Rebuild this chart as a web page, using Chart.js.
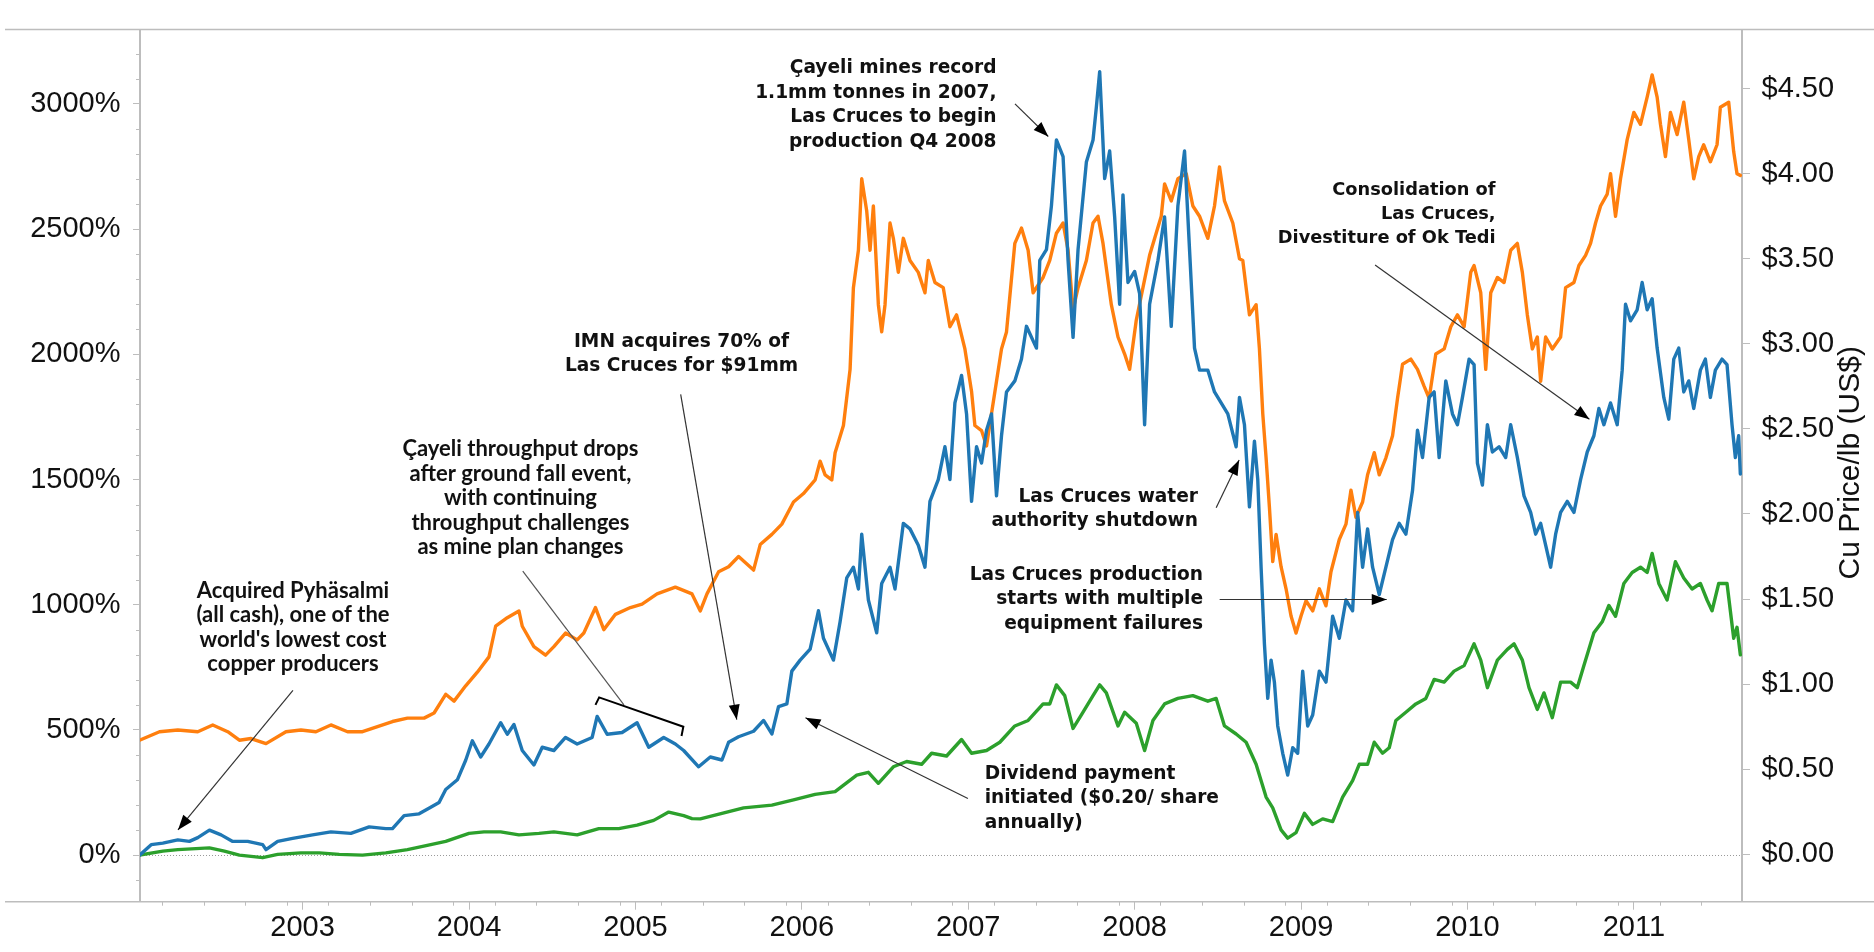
<!DOCTYPE html>
<html>
<head>
<meta charset="utf-8">
<script src="https://cdn.jsdelivr.net/npm/chart.js@4.4.0/dist/chart.umd.min.js"></script>
<style>
html,body{margin:0;padding:0;background:#fff;overflow:hidden;}
#c{display:block;}
</style>
</head>
<body>
<canvas id="c" width="1874" height="952"></canvas>
<script>
// ---------- DATA ----------
const yearTicks  = [2003, 2004, 2005, 2006, 2007, 2008, 2009, 2010, 2011];
const pctTicks   = [0, 500, 1000, 1500, 2000, 2500, 3000];
const priceTicks = [0, 0.5, 1, 1.5, 2, 2.5, 3, 3.5, 4, 4.5];

// Copper price, US$/lb (orange, right axis)
const copperYears = [2002.02,2002.14,2002.25,2002.37,2002.46,2002.55,2002.62,2002.69,2002.78,2002.90,2002.99,2003.08,2003.17,2003.27,2003.36,2003.45,2003.54,2003.63,2003.73,2003.79,2003.86,2003.91,2003.98,2004.05,2004.12,2004.16,2004.23,2004.30,2004.32,2004.39,2004.46,2004.51,2004.58,2004.65,2004.69,2004.76,2004.81,2004.88,2004.97,2005.04,2005.13,2005.24,2005.34,2005.39,2005.43,2005.50,2005.56,2005.62,2005.71,2005.75,2005.82,2005.88,2005.95,2006.01,2006.08,2006.11,2006.14,2006.18,2006.20,2006.25,2006.29,2006.31,2006.34,2006.36,2006.39,2006.41,2006.43,2006.46,2006.48,2006.50,2006.53,2006.55,2006.58,2006.61,2006.65,2006.70,2006.74,2006.76,2006.80,2006.85,2006.89,2006.93,2006.98,2007.02,2007.04,2007.08,2007.11,2007.14,2007.17,2007.20,2007.23,2007.28,2007.32,2007.36,2007.39,2007.45,2007.49,2007.53,2007.57,2007.60,2007.63,2007.66,2007.71,2007.75,2007.78,2007.81,2007.86,2007.90,2007.94,2007.97,2008.01,2008.05,2008.09,2008.16,2008.18,2008.22,2008.26,2008.31,2008.35,2008.39,2008.44,2008.48,2008.51,2008.54,2008.59,2008.63,2008.65,2008.69,2008.73,2008.75,2008.77,2008.79,2008.81,2008.83,2008.85,2008.88,2008.91,2008.94,2008.97,2009.00,2009.03,2009.07,2009.11,2009.15,2009.18,2009.23,2009.27,2009.30,2009.33,2009.37,2009.40,2009.44,2009.47,2009.51,2009.55,2009.58,2009.61,2009.66,2009.70,2009.74,2009.77,2009.81,2009.86,2009.90,2009.94,2009.98,2010.02,2010.04,2010.08,2010.11,2010.14,2010.18,2010.22,2010.26,2010.30,2010.33,2010.36,2010.39,2010.42,2010.44,2010.47,2010.51,2010.56,2010.59,2010.64,2010.67,2010.71,2010.74,2010.77,2010.80,2010.84,2010.86,2010.89,2010.92,2010.96,2011.00,2011.04,2011.08,2011.11,2011.14,2011.16,2011.19,2011.22,2011.26,2011.30,2011.33,2011.36,2011.39,2011.42,2011.46,2011.50,2011.52,2011.57,2011.60,2011.62,2011.64];
const copperPrice = [0.67,0.72,0.73,0.72,0.76,0.72,0.67,0.68,0.65,0.72,0.73,0.72,0.76,0.72,0.72,0.75,0.78,0.80,0.80,0.83,0.94,0.90,0.99,1.07,1.16,1.34,1.39,1.43,1.34,1.22,1.17,1.22,1.30,1.26,1.30,1.45,1.32,1.41,1.45,1.47,1.53,1.57,1.53,1.43,1.53,1.66,1.69,1.75,1.67,1.82,1.88,1.94,2.07,2.12,2.20,2.31,2.23,2.20,2.36,2.52,2.85,3.33,3.55,3.97,3.78,3.55,3.81,3.23,3.07,3.23,3.71,3.62,3.42,3.62,3.49,3.42,3.30,3.49,3.36,3.33,3.10,3.17,2.97,2.72,2.52,2.49,2.40,2.59,2.78,2.97,3.07,3.59,3.68,3.55,3.30,3.39,3.49,3.65,3.71,3.55,3.20,3.33,3.49,3.71,3.75,3.59,3.23,3.04,2.94,2.85,3.14,3.33,3.52,3.75,3.94,3.84,3.97,4.00,3.81,3.75,3.62,3.81,4.04,3.84,3.71,3.50,3.49,3.17,3.23,2.97,2.59,2.33,2.04,1.72,1.88,1.69,1.56,1.40,1.30,1.40,1.49,1.43,1.56,1.46,1.66,1.85,1.94,2.14,1.98,2.07,2.23,2.36,2.23,2.33,2.46,2.68,2.88,2.91,2.85,2.75,2.68,2.94,2.97,3.10,3.17,3.10,3.42,3.46,3.30,2.85,3.30,3.39,3.36,3.55,3.59,3.42,3.17,2.97,3.04,2.78,3.04,2.97,3.04,3.33,3.36,3.46,3.52,3.59,3.71,3.81,3.88,4.00,3.75,3.97,4.20,4.36,4.29,4.45,4.58,4.45,4.29,4.10,4.36,4.23,4.42,4.20,3.97,4.10,4.17,4.07,4.17,4.39,4.42,4.13,4.00,3.99];

// IMN total return, % (blue, left axis)
const imnYears = [2002.02,2002.09,2002.16,2002.25,2002.32,2002.37,2002.44,2002.51,2002.58,2002.67,2002.76,2002.78,2002.85,2002.94,2003.06,2003.17,2003.29,2003.40,2003.50,2003.54,2003.61,2003.70,2003.77,2003.82,2003.86,2003.93,2003.98,2004.02,2004.07,2004.12,2004.19,2004.23,2004.27,2004.32,2004.39,2004.44,2004.51,2004.58,2004.65,2004.74,2004.77,2004.83,2004.92,2005.01,2005.08,2005.17,2005.24,2005.29,2005.38,2005.45,2005.52,2005.56,2005.62,2005.71,2005.77,2005.82,2005.86,2005.91,2005.94,2005.99,2006.05,2006.10,2006.13,2006.19,2006.23,2006.27,2006.31,2006.34,2006.36,2006.40,2006.45,2006.48,2006.53,2006.56,2006.61,2006.65,2006.70,2006.74,2006.77,2006.82,2006.86,2006.89,2006.92,2006.96,2006.99,2007.02,2007.05,2007.08,2007.11,2007.14,2007.17,2007.20,2007.23,2007.28,2007.32,2007.35,2007.41,2007.43,2007.47,2007.50,2007.53,2007.57,2007.60,2007.63,2007.66,2007.71,2007.75,2007.77,2007.79,2007.82,2007.85,2007.88,2007.91,2007.93,2007.96,2008.00,2008.03,2008.06,2008.09,2008.14,2008.18,2008.22,2008.26,2008.30,2008.33,2008.36,2008.39,2008.44,2008.48,2008.52,2008.56,2008.61,2008.63,2008.66,2008.69,2008.72,2008.74,2008.76,2008.78,2008.80,2008.82,2008.84,2008.86,2008.89,2008.92,2008.95,2008.98,2009.01,2009.04,2009.07,2009.11,2009.15,2009.19,2009.23,2009.27,2009.31,2009.34,2009.37,2009.40,2009.43,2009.47,2009.51,2009.55,2009.59,2009.63,2009.67,2009.70,2009.73,2009.77,2009.80,2009.83,2009.87,2009.91,2009.94,2009.97,2010.01,2010.04,2010.06,2010.09,2010.12,2010.15,2010.19,2010.23,2010.26,2010.30,2010.34,2010.38,2010.41,2010.44,2010.47,2010.50,2010.53,2010.56,2010.60,2010.64,2010.68,2010.72,2010.76,2010.79,2010.82,2010.86,2010.90,2010.93,2010.95,2010.98,2011.02,2011.05,2011.08,2011.11,2011.14,2011.18,2011.21,2011.24,2011.27,2011.30,2011.33,2011.36,2011.40,2011.43,2011.46,2011.49,2011.53,2011.56,2011.59,2011.61,2011.63,2011.64];
const imnReturn = [0,42,48,61,55,70,100,81,55,55,42,22,55,67,81,93,87,113,106,106,158,165,191,210,262,301,379,457,392,444,529,483,522,418,360,431,418,470,444,470,554,483,490,529,431,470,444,418,353,392,380,451,473,495,538,484,593,604,735,779,823,976,866,779,932,1107,1150,1063,1282,1019,888,1085,1150,1063,1325,1303,1238,1150,1413,1500,1631,1500,1806,1916,1762,1413,1631,1566,1697,1762,1435,1675,1850,1894,1981,2112,2025,2375,2418,2593,2856,2790,2375,2068,2418,2768,2856,2987,3129,2702,2812,2549,2200,2637,2287,2331,2243,1719,2200,2375,2549,2112,2593,2812,2418,2025,1937,1937,1850,1806,1762,1631,1828,1719,1391,1653,1500,1150,844,626,779,691,516,407,320,429,407,735,516,560,735,691,954,866,1019,976,1369,1150,1303,1150,1041,1150,1260,1325,1282,1456,1697,1588,1828,1850,1588,1894,1762,1719,1828,1981,1959,1566,1478,1719,1610,1631,1588,1719,1588,1435,1369,1282,1325,1238,1150,1282,1369,1413,1369,1500,1610,1675,1784,1719,1806,1719,1937,2200,2134,2178,2287,2178,2222,2025,1828,1741,1981,2025,1850,1894,1784,1937,1981,1828,1937,1981,1959,1719,1588,1675,1522];

// Benchmark total return, % (green, left axis)
const benchYears = [2002.02,2002.16,2002.25,2002.44,2002.53,2002.62,2002.76,2002.85,2002.99,2003.10,2003.22,2003.36,2003.50,2003.63,2003.77,2003.86,2004.00,2004.09,2004.19,2004.30,2004.42,2004.51,2004.65,2004.78,2004.90,2005.01,2005.11,2005.20,2005.29,2005.34,2005.39,2005.52,2005.65,2005.82,2005.95,2006.08,2006.20,2006.33,2006.40,2006.46,2006.55,2006.63,2006.72,2006.78,2006.87,2006.96,2007.02,2007.11,2007.19,2007.28,2007.36,2007.45,2007.49,2007.53,2007.58,2007.63,2007.68,2007.75,2007.79,2007.83,2007.90,2007.94,2008.01,2008.06,2008.11,2008.18,2008.26,2008.35,2008.44,2008.49,2008.54,2008.61,2008.67,2008.73,2008.79,2008.83,2008.88,2008.92,2008.97,2009.02,2009.07,2009.13,2009.19,2009.25,2009.31,2009.35,2009.40,2009.44,2009.49,2009.53,2009.57,2009.63,2009.69,2009.75,2009.80,2009.86,2009.92,2009.98,2010.04,2010.08,2010.12,2010.18,2010.24,2010.28,2010.33,2010.37,2010.42,2010.46,2010.51,2010.56,2010.62,2010.66,2010.70,2010.76,2010.81,2010.85,2010.89,2010.94,2010.99,2011.04,2011.08,2011.11,2011.15,2011.20,2011.25,2011.30,2011.35,2011.40,2011.44,2011.47,2011.51,2011.56,2011.60,2011.62,2011.64];
const benchReturn = [0,16,22,29,16,0,-10,3,9,9,3,0,9,22,42,55,87,93,93,81,87,93,81,106,106,120,139,172,158,146,145,167,189,200,221,243,254,320,331,287,353,374,363,407,396,462,407,418,451,516,538,604,604,680,637,506,560,637,680,648,516,571,527,418,538,604,626,637,615,626,516,484,451,363,232,189,101,68,90,167,123,145,134,232,298,363,363,451,407,429,538,571,604,626,702,691,735,757,844,779,669,779,822,844,779,669,582,648,549,691,691,669,757,888,932,997,954,1085,1129,1150,1129,1205,1085,1019,1172,1107,1063,1085,1019,976,1085,1085,866,910,800];

// Annotation texts, anchored in data units (year, % on left axis)
const notes = [
  {lines:["Acquired Pyhäsalmi","(all cash), one of the","world's lowest cost","copper producers"], at:[2002.942,1056], align:"center", face:"lato"},
  {lines:["Çayeli throughput drops","after ground fall event,","with continuing","throughput challenges","as mine plan changes"], at:[2004.309,1621], align:"center", face:"lato"},
  {lines:["IMN acquires 70% of","Las Cruces for $91mm"], at:[2005.277,2049], align:"center", face:"dv"},
  {lines:["Çayeli mines record","1.1mm tonnes in 2007,","Las Cruces to begin","production Q4 2008"], at:[2007.170,3141], align:"right", face:"dv"},
  {lines:["Las Cruces water","authority shutdown"], at:[2008.381,1430], align:"right", face:"dv"},
  {lines:["Las Cruces production","starts with multiple","equipment failures"], at:[2008.411,1118], align:"right", face:"dv"},
  {lines:["Dividend payment","initiated ($0.20/ share","annually)"], at:[2007.099,324], align:"left", face:"dv"},
  {lines:["Consolidation of","Las Cruces,","Divestiture of Ok Tedi"], at:[2010.169,2654], align:"right", face:"dvw"}
];
const arrows = [
  {from:[2002.942,658],  to:[2002.251,101],  head:true},
  {from:[2004.323,1134], to:[2004.931,600],  head:false},
  {from:[2005.272,1840], to:[2005.609,541],  head:true},
  {from:[2007.281,3000], to:[2007.481,2870], head:true},
  {from:[2008.490,1387], to:[2008.628,1578], head:true},
  {from:[2008.511,1021], to:[2009.515,1021], head:true},
  {from:[2006.998,226],  to:[2006.022,549],  head:true},
  {from:[2009.445,2357], to:[2010.733,1741], head:true}
];
const bracket = [[2004.760,600],[2004.782,630],[2005.288,513],[2005.277,476]];

// ---------- CHART ----------
Chart.defaults.font.family = "'Liberation Sans', Arial, sans-serif";
const AXIS = '#bdbdbd';
const toXY = (xs, ys) => xs.map((x, i) => ({x: x, y: ys[i]}));
const FONTS = {
  lato: {font: "bold 22px Lato, 'Open Sans', sans-serif", lh: 24.5},
  dv:   {font: "bold 18.6px 'DejaVu Sans', Verdana, sans-serif", lh: 24.4},
  dvw:  {font: "bold 17.8px 'DejaVu Sans', Verdana, sans-serif", lh: 23.9}
};

const overlay = {
  id: 'overlay',
  beforeDatasetsDraw(chart) {
    const {ctx, chartArea: a, scales: {y}} = chart;
    const py = Math.round(y.getPixelForValue(0)) + 0.5;
    ctx.save();
    ctx.strokeStyle = '#9a9a9a'; ctx.lineWidth = 1; ctx.setLineDash([1, 2]);
    ctx.beginPath(); ctx.moveTo(a.left, py); ctx.lineTo(a.right, py); ctx.stroke();
    ctx.restore();
  },
  afterDraw(chart) {
    const {ctx, chartArea: a, scales: {x, y, y1}} = chart;
    ctx.save();
    // frame lines across the full width
    ctx.strokeStyle = AXIS; ctx.lineWidth = 1.5;
    ctx.beginPath();
    ctx.moveTo(5, a.top - 0.5); ctx.lineTo(chart.width, a.top - 0.5);
    ctx.moveTo(5, a.bottom); ctx.lineTo(chart.width, a.bottom);
    ctx.stroke();
    // minor ticks
    ctx.lineWidth = 1;
    ctx.beginPath();
    for (let v = -100; v <= 3200; v += 100) {
      if (v % 500 === 0) continue;
      const py = Math.round(y.getPixelForValue(v)) + 0.5;
      ctx.moveTo(a.left - 4, py); ctx.lineTo(a.left, py);
    }
    for (let t = 2002.155; t <= x.max + 0.001; t += 0.25) {
      if (t < x.min) continue;
      const px = Math.round(x.getPixelForValue(t)) + 0.5;
      ctx.moveTo(px, a.bottom); ctx.lineTo(px, a.bottom + 4);
    }
    ctx.stroke();
    // right axis title (reads bottom to top)
    ctx.save();
    ctx.translate(y1.right - 23, (a.top + a.bottom) / 2 - 3);
    ctx.rotate(-Math.PI / 2);
    ctx.fillStyle = '#111';
    ctx.font = "30px 'Liberation Sans', Arial, sans-serif";
    ctx.textAlign = 'center'; ctx.textBaseline = 'middle';
    ctx.fillText('Cu Price/lb (US$)', 0, 0);
    ctx.restore();
    // annotation arrows
    const P = (p) => [x.getPixelForValue(p[0]), y.getPixelForValue(p[1])];
    arrows.forEach(ar => {
      const [x1, y1p] = P(ar.from), [x2, y2p] = P(ar.to);
      ctx.strokeStyle = ar.head ? '#333' : '#555'; ctx.lineWidth = 1.2;
      ctx.beginPath(); ctx.moveTo(x1, y1p); ctx.lineTo(x2, y2p); ctx.stroke();
      if (ar.head) {
        const ang = Math.atan2(y2p - y1p, x2 - x1), L = 15, W = 5.5;
        ctx.fillStyle = '#000';
        ctx.beginPath();
        ctx.moveTo(x2, y2p);
        ctx.lineTo(x2 - L * Math.cos(ang) + W * Math.sin(ang), y2p - L * Math.sin(ang) - W * Math.cos(ang));
        ctx.lineTo(x2 - L * Math.cos(ang) - W * Math.sin(ang), y2p - L * Math.sin(ang) + W * Math.cos(ang));
        ctx.closePath(); ctx.fill();
      }
    });
    // bracket
    ctx.strokeStyle = '#000'; ctx.lineWidth = 2;
    ctx.beginPath();
    bracket.forEach((p, i) => { const [bx, by] = P(p); i ? ctx.lineTo(bx, by) : ctx.moveTo(bx, by); });
    ctx.stroke();
    // annotation texts
    ctx.fillStyle = '#111'; ctx.textBaseline = 'middle';
    notes.forEach(n => {
      const [nx, ny] = P(n.at);
      const f = FONTS[n.face];
      ctx.font = f.font;
      ctx.textAlign = n.align;
      n.lines.forEach((s, i) => ctx.fillText(s, nx, ny + i * f.lh));
    });
    ctx.restore();
  }
};

new Chart(document.getElementById('c').getContext('2d'), {
  type: 'line',
  data: {
    datasets: [
      {label: 'IMN', data: toXY(imnYears, imnReturn), borderColor: '#1f77b4', yAxisID: 'y'},
      {label: 'Benchmark', data: toXY(benchYears, benchReturn), borderColor: '#2ca02c', yAxisID: 'y'},
      {label: 'Copper', data: toXY(copperYears, copperPrice), borderColor: '#ff7f0e', yAxisID: 'y1'}
    ]
  },
  options: {
    responsive: false, animation: false, devicePixelRatio: 1,
    layout: {padding: {top: 8, left: 0, right: 0, bottom: 0}},
    elements: {point: {radius: 0}, line: {borderWidth: 3.4, tension: 0, borderJoinStyle: 'round', borderCapStyle: 'round'}},
    plugins: {legend: {display: false}, tooltip: {enabled: false}},
    scales: {
      x: {
        type: 'linear', position: 'bottom', min: 2002.0228, max: 2011.650,
        afterBuildTicks: s => { s.ticks = yearTicks.map(v => ({value: v})); },
        afterFit: s => { s.height = 50.3; },
        grid: {drawOnChartArea: false, drawTicks: true, tickLength: 8, color: AXIS, lineWidth: 1},
        border: {display: false},
        ticks: {autoSkip: false, maxRotation: 0, padding: 1, color: '#111', font: {size: 29}, callback: v => String(v)}
      },
      y: {
        type: 'linear', position: 'left', min: -185.8, max: 3295.7,
        afterBuildTicks: s => { s.ticks = pctTicks.map(v => ({value: v})); },
        afterFit: s => { s.width = 140; },
        grid: {drawOnChartArea: false, drawTicks: true, tickLength: 7, color: AXIS, lineWidth: 1},
        border: {display: true, color: AXIS, width: 2},
        ticks: {padding: 12.5, color: '#111', font: {size: 29}, callback: v => v + '%'}
      },
      y1: {
        type: 'linear', position: 'right', min: -0.279, max: 4.845,
        afterBuildTicks: s => { s.ticks = priceTicks.map(v => ({value: v})); },
        afterFit: s => { s.width = 132; },
        grid: {drawOnChartArea: false, drawTicks: true, tickLength: 8, color: AXIS, lineWidth: 1},
        border: {display: true, color: AXIS, width: 2},
        ticks: {padding: 11.5, color: '#111', font: {size: 29}, callback: v => '$' + Number(v).toFixed(2)}
      }
    }
  },
  plugins: [overlay]
});
</script>
</body>
</html>
